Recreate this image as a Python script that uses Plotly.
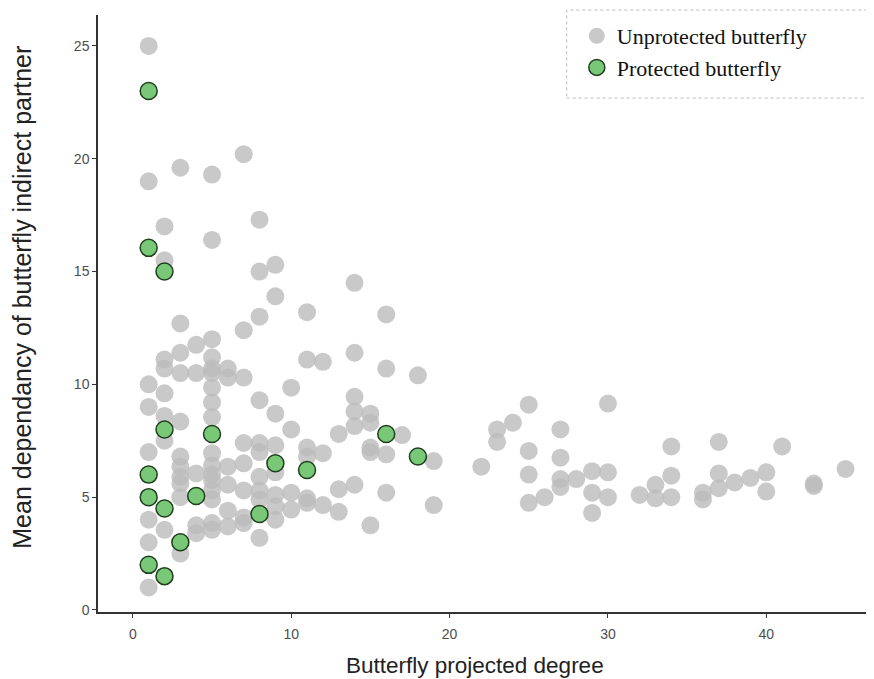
import plotly.graph_objects as go

# unprotected butterflies: projected degree and mean dependency
unprot_x = (
    [1] * 8 + [2] * 8 + [3] * 11 + [4] * 5 + [5] * 17 + [6] * 6 + [7] * 8 + [8] * 10
    + [9] * 8 + [10] * 4 + [11] * 6 + [12] * 3 + [13] * 3 + [14] * 6 + [15] * 5 + [16] * 4
    + [17, 18, 19, 19, 22, 23, 23, 24] + [25] * 4 + [26] + [27] * 4 + [28] + [29] * 3
    + [30] * 3 + [32, 33, 33] + [34] * 3 + [36, 36] + [37] * 3 + [38, 39, 40, 40, 41, 43, 43, 45]
)
unprot_y = [
    25.0, 19.0, 10.0, 9.0, 7.0, 4.0, 3.0, 1.0,
    17.0, 15.5, 11.1, 10.7, 9.6, 8.6, 7.5, 3.55,
    19.6, 12.7, 11.4, 10.5, 8.35, 6.8, 6.35, 5.9, 5.6, 5.0, 2.5,
    11.75, 10.5, 6.05, 3.75, 3.4,
    19.3, 16.4, 12.0, 11.2, 10.7, 10.5, 9.85, 9.2, 8.55, 6.95, 6.4, 6.0, 5.75, 5.3, 4.9, 3.85, 3.55,
    10.7, 10.3, 6.35, 5.55, 4.4, 3.7,
    20.2, 12.4, 10.3, 7.4, 6.5, 5.3, 4.1, 3.85,
    17.3, 15.0, 13.0, 9.3, 7.4, 7.0, 5.9, 5.3, 4.9, 3.2,
    15.3, 13.9, 8.7, 7.3, 6.1, 5.1, 4.6, 4.0,
    9.85, 8.0, 5.2, 4.45,
    13.2, 11.1, 7.2, 6.8, 4.95, 4.75,
    11.0, 6.95, 4.65,
    7.8, 5.35, 4.35,
    14.5, 11.4, 9.45, 8.8, 8.15, 5.55,
    8.7, 8.3, 7.2, 7.0, 3.75,
    13.1, 10.7, 6.9, 5.2,
    7.75, 10.4, 6.6, 4.65, 6.35, 8.0, 7.45, 8.3,
    9.1, 7.05, 6.0, 4.75,
    5.0,
    8.0, 6.75, 5.8, 5.45,
    5.8,
    6.15, 5.2, 4.3,
    9.15, 6.1, 5.0,
    5.1, 5.55, 4.95,
    7.25, 5.95, 5.0,
    5.2, 4.9,
    7.45, 6.05, 5.4,
    5.65, 5.85, 6.1, 5.25, 7.25, 5.6, 5.5, 6.25,
]

# protected butterflies
prot_x = [1, 1, 2, 2, 5, 1, 1, 4, 2, 3, 1, 2, 9, 11, 8, 16, 18]
prot_y = [23.0, 16.05, 15.0, 8.0, 7.8, 6.0, 5.0, 5.05, 4.5, 3.0, 2.0, 1.5, 6.5, 6.2, 4.25, 7.8, 6.8]

x_ticks = [0, 10, 20, 30, 40]
y_ticks = [0, 5, 10, 15, 20, 25]

fig = go.Figure()

fig.add_trace(go.Scatter(
    x=unprot_x, y=unprot_y, mode='markers', name='Unprotected butterfly',
    marker=dict(size=18, color='rgba(188,188,188,0.8)', line=dict(width=0))
))
fig.add_trace(go.Scatter(
    x=prot_x, y=prot_y, mode='markers', name='Protected butterfly',
    marker=dict(size=17, color='#78C878', line=dict(width=1.5, color='#1f3f1f'))
))

axis_common = dict(
    showgrid=False, zeroline=False, showline=True, linecolor='#333333', linewidth=1.5,
    ticks='outside', ticklen=4, tickcolor='#333333', tickwidth=1, automargin=False,
    tickfont=dict(family='Liberation Sans, Arial, sans-serif', size=14, color='#4d4d4d'),
)

# page body has an 8px margin, so the figure is sized/offset to compensate
fig.update_layout(
    width=866, height=671,
    template='plotly_white',
    plot_bgcolor='white', paper_bgcolor='white',
    margin=dict(l=90, r=0, t=7, b=67, autoexpand=False),
    font=dict(family='Liberation Sans, Arial, sans-serif', color='#222222'),
    xaxis=dict(range=[-2.2, 46.8], tickvals=x_ticks, ticklabelstandoff=4, **axis_common),
    yaxis=dict(range=[-0.09, 26.37], tickvals=y_ticks, **axis_common),
    legend=dict(
        x=0.617, y=1.0, xanchor='left', yanchor='top',
        bgcolor='rgba(255,255,255,0)', borderwidth=0,
        font=dict(family='Liberation Serif, Times New Roman, serif', size=22, color='#111111'),
    ),
    shapes=[dict(
        type='rect', xref='paper', yref='paper',
        x0=0.604, x1=1.0, y0=(612 - 98) / 597, y1=(612 - 10) / 597,
        line=dict(color='#bbbbbb', width=1, dash='dot'), fillcolor='rgba(0,0,0,0)', layer='below'
    )],
    annotations=[
        dict(text='Butterfly projected degree', xref='paper', yref='paper',
             x=0.486, y=-0.089, xanchor='center', yanchor='middle', showarrow=False,
             font=dict(size=22.5, color='#222222')),
        dict(text='Mean dependancy of butterfly indirect partner', xref='paper', yref='paper',
             x=-0.098, y=0.528, xanchor='center', yanchor='middle', showarrow=False,
             textangle=-90, font=dict(size=25, color='#222222')),
    ],
)

fig.write_html("out.html")
